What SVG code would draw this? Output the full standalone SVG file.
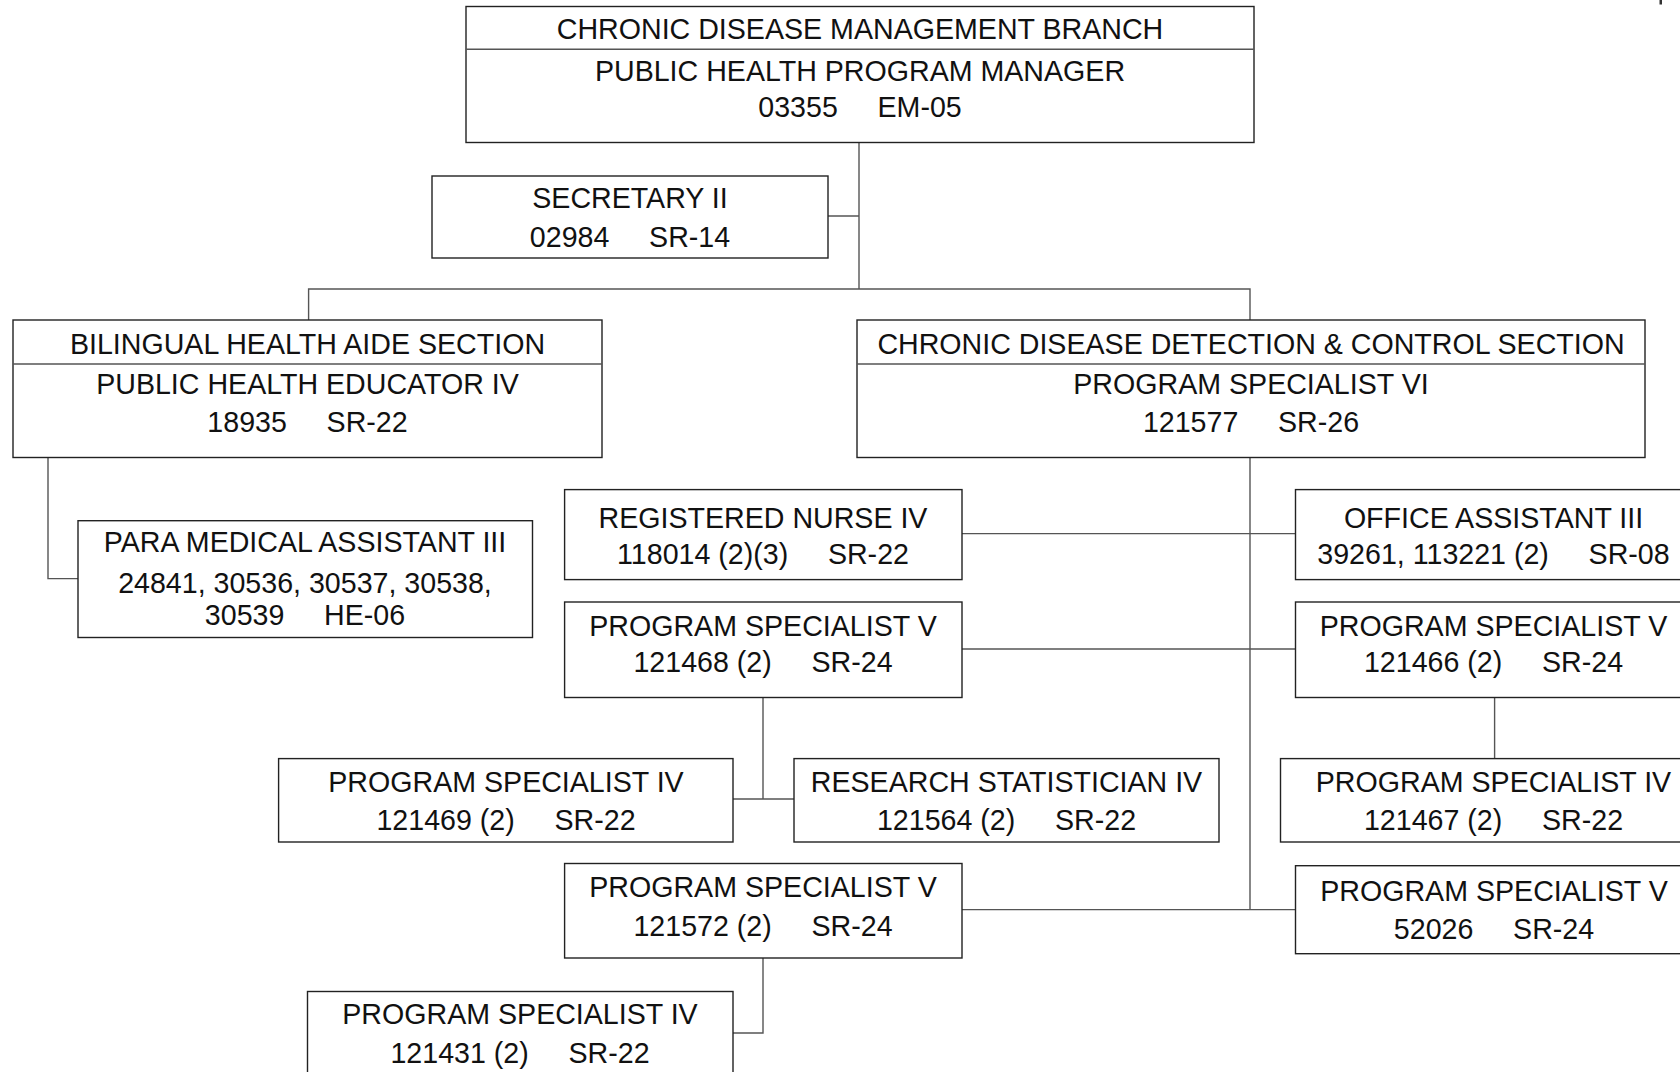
<svg xmlns="http://www.w3.org/2000/svg" width="1680" height="1072" viewBox="0 0 1680 1072">
<style>
.box{fill:#fff;stroke:#222;stroke-width:1.4}
.div{stroke:#555;stroke-width:1.4}
.t{font-family:"Liberation Sans",Arial,sans-serif;font-size:28.6px;fill:#111;text-anchor:middle;white-space:pre}
.c{fill:none;stroke:#555;stroke-width:1.4}
</style>
<rect width="1680" height="1072" fill="#fff"/>
<g id="connectors">
<path class="c" d="M859 142.5V289M828 216H859"/>
<path class="c" d="M308.6 320V289H1250V320"/>
<path class="c" d="M48 457.5V578.6H78"/>
<path class="c" d="M1250 457.5V909.6"/>
<path class="c" d="M962 533.6H1295"/>
<path class="c" d="M962 649H1295"/>
<path class="c" d="M763 697.5V799M733 799H794"/>
<path class="c" d="M1494.6 697.5V758.6"/>
<path class="c" d="M962 909.6H1295"/>
<path class="c" d="M763 958V1033H733"/>
</g>
<g id="branch">
<rect class="box" x="466" y="6.5" width="788" height="136"/>
<line class="div" x1="466" y1="49.3" x2="1254" y2="49.3"/>
<text class="t" x="860" y="39">CHRONIC DISEASE MANAGEMENT BRANCH</text>
<text class="t" x="860" y="81">PUBLIC HEALTH PROGRAM MANAGER</text>
<text class="t" x="860" y="117" xml:space="preserve">03355     EM-05</text>
</g>
<g id="secretary">
<rect class="box" x="432" y="176" width="396" height="82"/>
<text class="t" x="630" y="208">SECRETARY II</text>
<text class="t" x="630" y="247" xml:space="preserve">02984     SR-14</text>
</g>
<g id="bilingual">
<rect class="box" x="13" y="320" width="589" height="137.5"/>
<line class="div" x1="13" y1="364" x2="602" y2="364"/>
<text class="t" x="307.5" y="354">BILINGUAL HEALTH AIDE SECTION</text>
<text class="t" x="307.5" y="394">PUBLIC HEALTH EDUCATOR IV</text>
<text class="t" x="307.5" y="432" xml:space="preserve">18935     SR-22</text>
</g>
<g id="detection">
<rect class="box" x="857" y="320" width="788" height="137.5"/>
<line class="div" x1="857" y1="364" x2="1645" y2="364"/>
<text class="t" x="1251" y="354">CHRONIC DISEASE DETECTION &amp; CONTROL SECTION</text>
<text class="t" x="1251" y="394">PROGRAM SPECIALIST VI</text>
<text class="t" x="1251" y="432" xml:space="preserve">121577     SR-26</text>
</g>
<g id="paramedical">
<rect class="box" x="78" y="520.7" width="454.5" height="116.8"/>
<text class="t" x="305" y="552">PARA MEDICAL ASSISTANT III</text>
<text class="t" x="305" y="593">24841, 30536, 30537, 30538,</text>
<text class="t" x="305" y="625" xml:space="preserve">30539     HE-06</text>
</g>
<g id="nurse">
<rect class="box" x="564.6" y="489.6" width="397.4" height="90"/>
<text class="t" x="763" y="527.5">REGISTERED NURSE IV</text>
<text class="t" x="763" y="564" xml:space="preserve">118014 (2)(3)     SR-22</text>
</g>
<g id="office">
<rect class="box" x="1295.5" y="489.6" width="400" height="90"/>
<text class="t" x="1493.5" y="527.5">OFFICE ASSISTANT III</text>
<text class="t" x="1493.5" y="564" xml:space="preserve">39261, 113221 (2)     SR-08</text>
</g>
<g id="ps5-121468">
<rect class="box" x="564.6" y="602" width="397.4" height="95.5"/>
<text class="t" x="763" y="636">PROGRAM SPECIALIST V</text>
<text class="t" x="763" y="672" xml:space="preserve">121468 (2)     SR-24</text>
</g>
<g id="ps5-121466">
<rect class="box" x="1295.5" y="602" width="400" height="95.5"/>
<text class="t" x="1493.5" y="636">PROGRAM SPECIALIST V</text>
<text class="t" x="1493.5" y="672" xml:space="preserve">121466 (2)     SR-24</text>
</g>
<g id="ps4-121469">
<rect class="box" x="278.6" y="758.6" width="454.4" height="83.4"/>
<text class="t" x="506" y="792">PROGRAM SPECIALIST IV</text>
<text class="t" x="506" y="830" xml:space="preserve">121469 (2)     SR-22</text>
</g>
<g id="rs4-121564">
<rect class="box" x="794" y="758.6" width="425" height="83.4"/>
<text class="t" x="1006.5" y="792">RESEARCH STATISTICIAN IV</text>
<text class="t" x="1006.5" y="830" xml:space="preserve">121564 (2)     SR-22</text>
</g>
<g id="ps4-121467">
<rect class="box" x="1280.5" y="758.6" width="430" height="83.4"/>
<text class="t" x="1493.5" y="792">PROGRAM SPECIALIST IV</text>
<text class="t" x="1493.5" y="830" xml:space="preserve">121467 (2)     SR-22</text>
</g>
<g id="ps5-121572">
<rect class="box" x="564.6" y="863.5" width="397.4" height="94.5"/>
<text class="t" x="763" y="897">PROGRAM SPECIALIST V</text>
<text class="t" x="763" y="935.5" xml:space="preserve">121572 (2)     SR-24</text>
</g>
<g id="ps5-52026">
<rect class="box" x="1295.5" y="865.7" width="400" height="88"/>
<text class="t" x="1494" y="901">PROGRAM SPECIALIST V</text>
<text class="t" x="1494" y="938.5" xml:space="preserve">52026     SR-24</text>
</g>
<g id="ps4-121431">
<rect class="box" x="307.5" y="991.5" width="425.5" height="100"/>
<text class="t" x="520" y="1024">PROGRAM SPECIALIST IV</text>
<text class="t" x="520" y="1063" xml:space="preserve">121431 (2)     SR-22</text>
</g>
<rect x="1659.5" y="0" width="2.5" height="4.5" fill="#333"/>
</svg>
